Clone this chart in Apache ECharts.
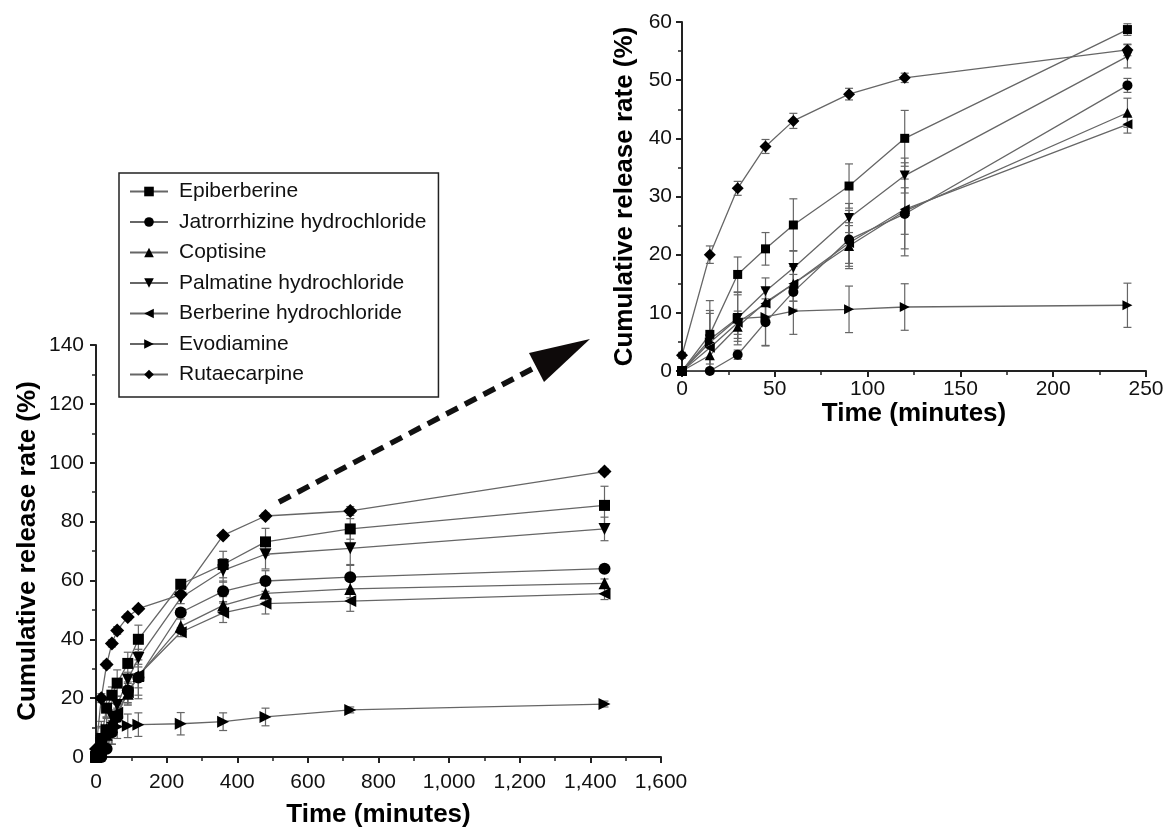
<!DOCTYPE html>
<html>
<head>
<meta charset="utf-8">
<script src="https://cdn.jsdelivr.net/npm/echarts@6/dist/echarts.min.js"></script>
<style>
html,body{margin:0;padding:0;background:#fff;}
#chart{width:1167px;height:833px;}
</style>
</head>
<body>
<div id="chart"></div>
<script>
// ---- data ----
const times = [0, 15, 30, 45, 60, 90, 120, 240, 360, 480, 720, 1440];

const seriesNames = ['Epiberberine', 'Jatrorrhizine hydrochloride', 'Coptisine',
  'Palmatine hydrochloride', 'Berberine hydrochloride', 'Evodiamine', 'Rutaecarpine'];

const epiberberine  = [0, 6.3, 16.6, 21.0, 25.1, 31.8, 40.0, 58.7, 65.4, 73.1, 77.5, 85.5];
const jatrorrhizine = [0, 0.0, 2.8, 8.4, 13.6, 22.6, 27.0, 49.1, 56.3, 59.8, 61.1, 64.0];
const coptisine     = [0, 2.7, 7.6, 11.8, 15.0, 21.5, 27.5, 44.4, 51.5, 55.6, 57.1, 59.0];
const palmatine     = [0, 5.4, 9.1, 13.7, 17.7, 26.3, 33.6, 54.1, 63.4, 68.9, 70.9, 77.5];
const berberine     = [0, 4.0, 8.3, 11.6, 15.0, 22.0, 27.8, 42.4, 49.0, 52.1, 53.0, 55.5];
const evodiamine    = [0, 4.9, 9.0, 9.3, 10.3, 10.6, 11.0, 11.3, 12.0, 13.6, 16.0, 18.0];
const rutaecarpine  = [2.7, 20.0, 31.4, 38.6, 43.0, 47.6, 50.4, 55.2, 75.3, 81.9, 83.6, 97.0];

const epiberberineErr  = [0, 5.8, 3.0, 2.8, 4.5, 3.8, 4.8, 1.0, 4.5, 4.6, 3.5, 6.5];
const jatrorrhizineErr = [0, 0.0, 0.8, 4.0, 3.0, 5.0, 6.0, 1.2, 3.5, 3.5, 4.0, 1.0];
const coptisineErr     = [0, 1.5, 2.0, 2.5, 3.0, 3.5, 4.0, 2.5, 3.0, 3.0, 3.0, 1.5];
const palmatineErr     = [0, 5.0, 4.0, 2.3, 3.0, 2.5, 3.0, 2.0, 4.0, 5.0, 5.5, 4.0];
const berberineErr     = [0, 2.0, 2.0, 2.5, 3.0, 3.5, 8.0, 1.5, 3.3, 3.5, 3.5, 2.0];
const evodiamineErr    = [0, 5.0, 4.5, 5.0, 4.0, 4.0, 4.0, 3.8, 3.0, 3.0, 1.0, 1.0];
const rutaecarpineErr  = [0.5, 1.5, 1.2, 1.2, 1.3, 1.0, 0.8, 1.0, 1.0, 1.0, 1.5, 1.0];

const mainXTicks = [0, 200, 400, 600, 800, 1000, 1200, 1400, 1600];
const insetXMax = 250;

// ---- build ----
const values = [epiberberine, jatrorrhizine, coptisine, palmatine, berberine, evodiamine, rutaecarpine];
const errors = [epiberberineErr, jatrorrhizineErr, coptisineErr, palmatineErr, berberineErr, evodiamineErr, rutaecarpineErr];
const symbols = [
  {symbol: 'rect', rotate: 0, size: 11},
  {symbol: 'circle', rotate: 0, size: 12},
  {symbol: 'triangle', rotate: 0, size: 12},
  {symbol: 'triangle', rotate: 180, size: 12},
  {symbol: 'triangle', rotate: 90, size: 12},
  {symbol: 'triangle', rotate: -90, size: 12},
  {symbol: 'diamond', rotate: 0, size: 14}
];
const FONT = "'Liberation Sans', Arial, sans-serif";
const LINE_COLOR = '#666';
const ERR_COLOR = '#666';

function errorRender(params, api) {
  const x = api.value(0), lo = api.value(1), hi = api.value(2);
  if (hi - lo <= 0) return;
  const p1 = api.coord([x, lo]);
  const p2 = api.coord([x, hi]);
  const w = 4;
  const st = {stroke: ERR_COLOR, lineWidth: 1.2};
  return {
    type: 'group',
    children: [
      {type: 'line', shape: {x1: p1[0], y1: p1[1], x2: p2[0], y2: p2[1]}, style: st},
      {type: 'line', shape: {x1: p1[0] - w, y1: p1[1], x2: p1[0] + w, y2: p1[1]}, style: st},
      {type: 'line', shape: {x1: p2[0] - w, y1: p2[1], x2: p2[0] + w, y2: p2[1]}, style: st}
    ]
  };
}

const series = [];
[0, 1].forEach(function (g) {
  const idx = times.map((t, i) => i).filter(i => g === 0 || times[i] <= insetXMax);
  values.forEach(function (vals, s) {
    series.push({
      type: 'custom',
      xAxisIndex: g, yAxisIndex: g,
      renderItem: errorRender,
      z: 1,
      silent: true,
      data: idx.map(i => [times[i], Math.max(0, vals[i] - errors[s][i]), vals[i] + errors[s][i]])
    });
  });
  values.forEach(function (vals, s) {
    const sy = symbols[s];
    series.push({
      name: seriesNames[s],
      type: 'line',
      xAxisIndex: g, yAxisIndex: g,
      symbol: sy.symbol,
      symbolRotate: sy.rotate,
      symbolSize: g === 0 ? sy.size : sy.size - 2,
      showSymbol: true,
      z: 2,
      lineStyle: {color: LINE_COLOR, width: 1.3},
      itemStyle: {color: '#000'},
      data: idx.map(i => [times[i], vals[i]])
    });
  });
});

function axisCommon(extra) {
  return Object.assign({
    type: 'value',
    splitLine: {show: false},
    axisLine: {show: true, onZero: false, lineStyle: {color: '#222', width: 2}},
    axisTick: {show: true, inside: false, length: 6, lineStyle: {color: '#222', width: 2}},
    minorTick: {show: true, splitNumber: 2, length: 4, lineStyle: {color: '#222', width: 1.5}},
    axisLabel: {fontSize: 21, color: '#111', fontFamily: FONT},
    nameLocation: 'middle',
    nameTextStyle: {fontSize: 26, fontWeight: 'bold', color: '#000', fontFamily: FONT}
  }, extra);
}

const option = {
  backgroundColor: '#fff',
  animation: false,
  textStyle: {fontFamily: FONT},
  grid: [
    {left: 96, top: 345, width: 565, height: 422},
    {left: 682, top: 22, width: 464, height: 349}
  ],
  xAxis: [
    axisCommon({gridIndex: 0, min: mainXTicks[0], max: mainXTicks[mainXTicks.length - 1], interval: 200,
      name: 'Time (minutes)', nameGap: 45,
      axisLabel: {fontSize: 21, color: '#111', fontFamily: FONT, margin: 15,
        formatter: v => v.toLocaleString('en-US')}}),
    axisCommon({gridIndex: 1, min: 0, max: insetXMax, interval: 50,
      name: 'Time (minutes)', nameGap: 28,
      axisLabel: {fontSize: 21, color: '#111', fontFamily: FONT, margin: 8}})
  ],
  yAxis: [
    axisCommon({gridIndex: 0, min: 0, max: 140, interval: 20,
      name: 'Cumulative release rate (%)', nameGap: 55,
      axisLabel: {fontSize: 21, color: '#111', fontFamily: FONT, margin: 12}}),
    axisCommon({gridIndex: 1, min: 0, max: 60, interval: 10,
      name: 'Cumulative release rate (%)', nameGap: 44,
      axisLabel: {fontSize: 21, color: '#111', fontFamily: FONT, margin: 10}})
  ],
  legend: {
    data: seriesNames,
    orient: 'vertical',
    left: 119, top: 173,
    padding: [8, 12, 12, 10],
    itemWidth: 38, itemHeight: 12,
    itemGap: 9.5,
    borderColor: '#222', borderWidth: 1.5,
    backgroundColor: '#fff',
    textStyle: {fontSize: 21, color: '#111', fontFamily: FONT, padding: [0, 0, 0, 6]},
    selectedMode: false
  },
  graphic: [
    {type: 'polyline', z: 100,
      shape: {points: [[279, 502], [532, 369]]},
      style: {stroke: '#111', lineWidth: 5.5, lineDash: [13, 8], fill: null}},
    {type: 'polygon', z: 100,
      shape: {points: [[590, 339], [544, 382], [529, 353]]},
      style: {fill: '#0e0a0a'}}
  ],
  series: series
};

const chart = echarts.init(document.getElementById('chart'));
chart.setOption(option);
</script>
</body>
</html>
